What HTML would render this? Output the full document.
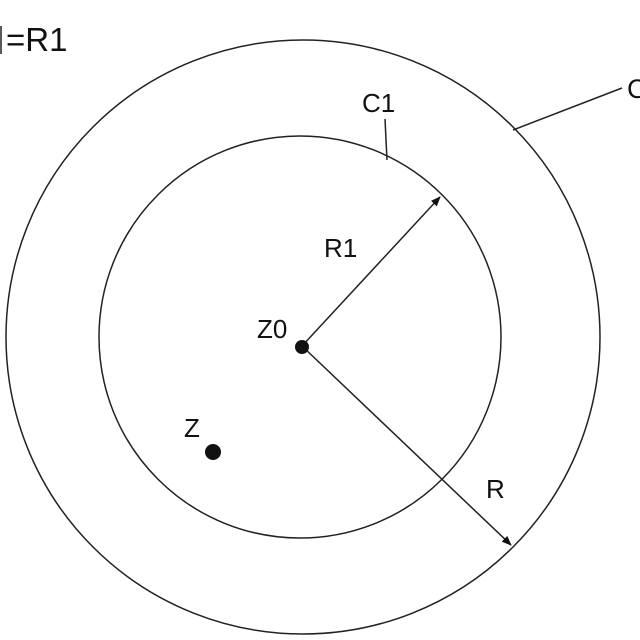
<!DOCTYPE html>
<html><head><style>html,body{margin:0;padding:0;background:#fff;width:640px;height:640px;overflow:hidden}</style></head>
<body>
<svg width="640" height="640" viewBox="0 0 640 640" xmlns="http://www.w3.org/2000/svg" font-family="Liberation Sans, sans-serif" fill="#111">
<defs><marker id="a" markerWidth="10" markerHeight="8" refX="9" refY="4" orient="auto" markerUnits="userSpaceOnUse"><path d="M0,0 L10,4 L0,8 z" fill="#111"/></marker></defs>
<g fill="none" stroke="#222" stroke-width="1.5">
<circle cx="303" cy="337" r="297"/>
<circle cx="300" cy="337" r="201"/>
<line x1="513" y1="130" x2="622" y2="88"/>
<line x1="385" y1="119" x2="387" y2="160"/>
<line x1="302" y1="346" x2="440" y2="197" marker-end="url(#a)"/>
<line x1="302" y1="346" x2="511" y2="545" marker-end="url(#a)"/>
<line x1="1" y1="26" x2="1" y2="54"/>
</g>
<circle cx="302" cy="347" r="7"/>
<circle cx="213" cy="452" r="8"/>
<text x="6" y="51" font-size="33">=R1</text>
<text x="627" y="98" font-size="27">C</text>
<text x="362" y="112" font-size="26">C1</text>
<text x="324" y="257" font-size="26">R1</text>
<text x="257" y="338" font-size="26">Z0</text>
<text x="184" y="437" font-size="26">Z</text>
<text x="486" y="498" font-size="26">R</text>
</svg>
</body></html>
